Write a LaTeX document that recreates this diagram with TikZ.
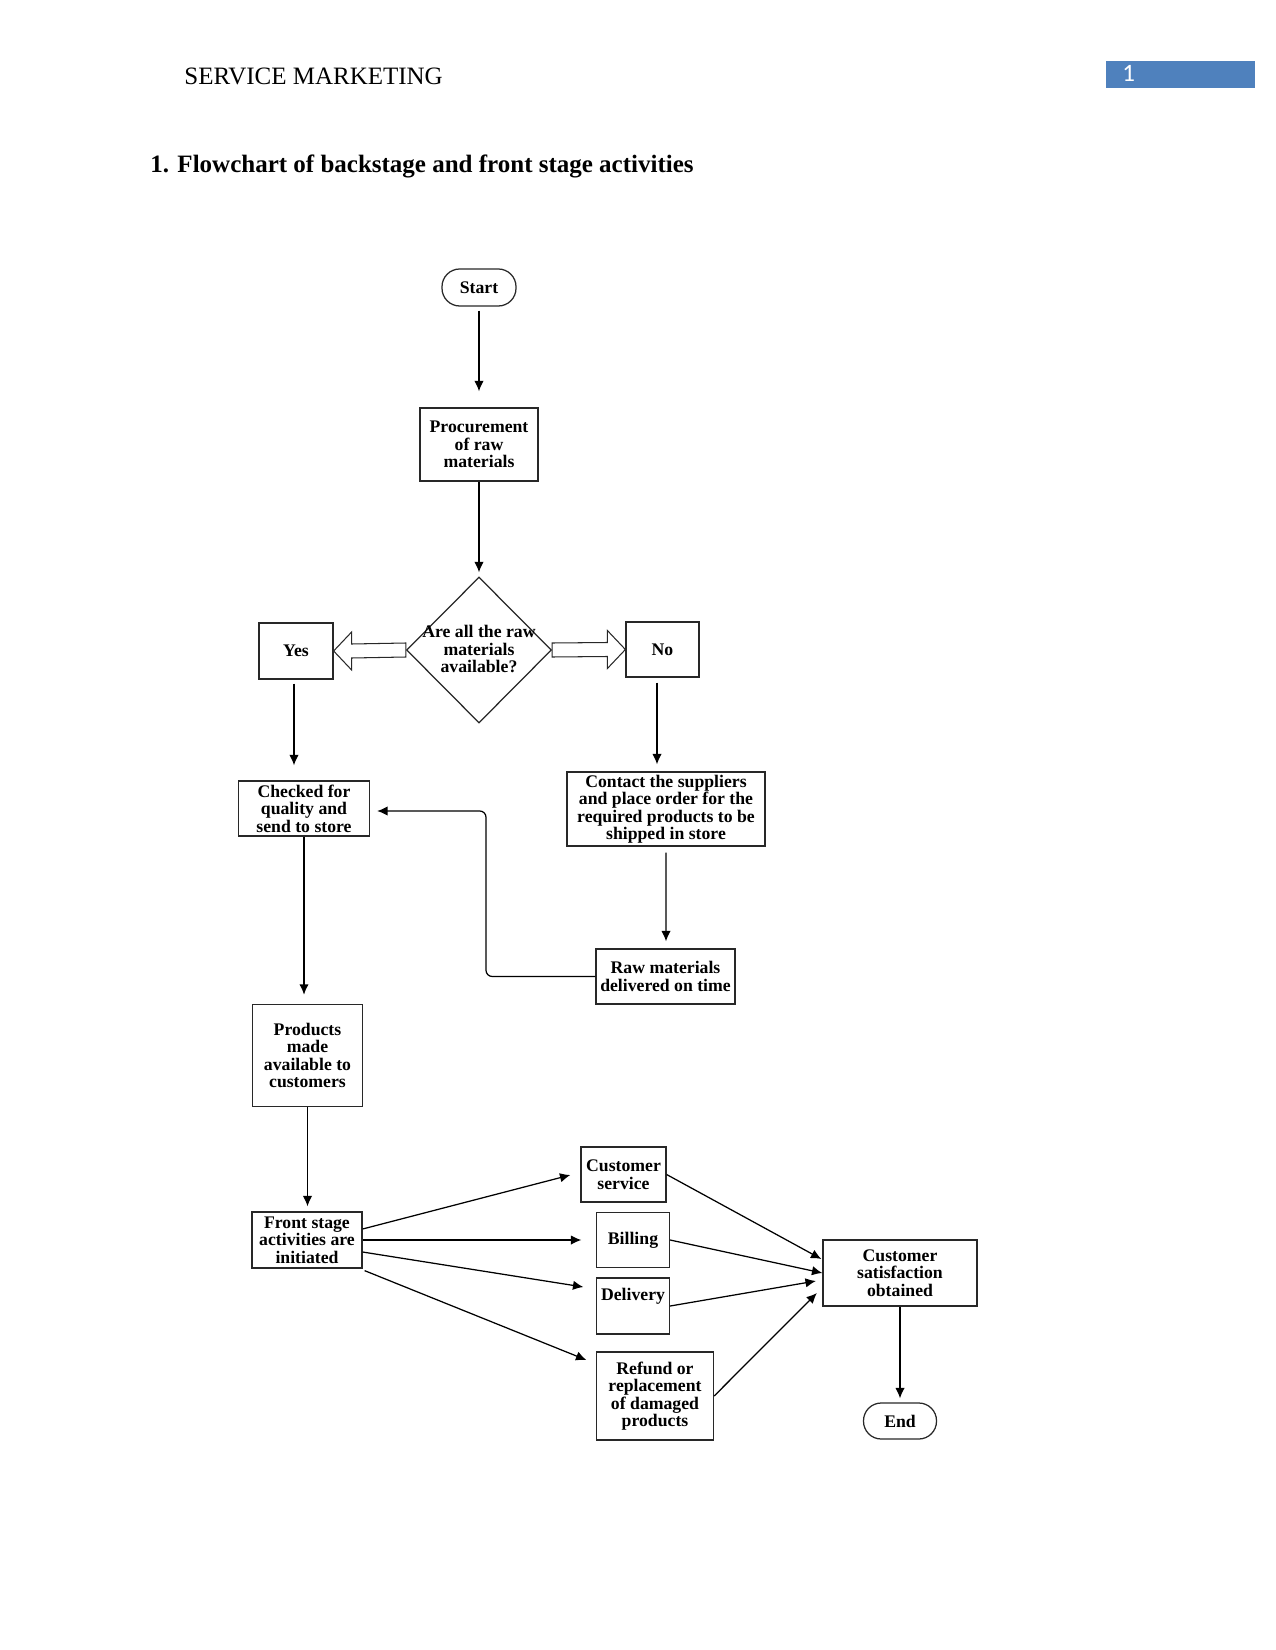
\documentclass[tikz,border=0pt]{standalone}
\usepackage{fontspec}
\setmainfont{Liberation Serif}
\newfontfamily\carlito{Carlito}
\usetikzlibrary{shapes.geometric,arrows.meta,calc}
\definecolor{pagebox}{RGB}{79,129,189}
\definecolor{lineink}{RGB}{40,40,40}
\tikzset{
  nfont/.style={font=\fontsize{8.5}{8.4}\selectfont\bfseries},
  box/.style={draw=lineink, line width=0.6pt, align=center, inner sep=1pt, nfont},
  wh/.style n args={2}{minimum width=#1*0.48pt, minimum height=#2*0.48pt},
  term/.style={box, rounded corners=8.5pt},
  arr/.style={-{Latex[length=5pt,width=4.5pt]}, line width=0.6pt},
  blk/.style={draw=lineink, line width=0.5pt, fill=white, line join=miter}
}
\begin{document}
\begin{tikzpicture}[x=0.48pt, y=-0.48pt]
\path[use as bounding box] (0,0) rectangle (1275,1650);

% header
\node[anchor=base west, inner sep=0, font=\fontsize{12}{14}\selectfont] (hdr) at (184,85) {SERVICE MARKETING};
\node[fill=pagebox, anchor=north west, inner sep=0, wh={149}{27}] (pg) at (1106,61) {};
\node[anchor=base west, inner sep=0, text=white, font=\carlito\fontsize{12}{14}\selectfont] (pgnum) at (1122,82) {1};
\node[anchor=base west, inner sep=0, font=\fontsize{12}{14}\selectfont\bfseries] (title) at (150,173) {1. Flowchart of backstage and front stage activities};

% nodes
\node[term, wh={74}{37}] (start) at (479,287.5) {Start};
\node[box, wh={118}{73}] (proc) at (479,444.5) {Procurement\\of raw\\materials};
\node[draw=lineink, diamond, line width=0.6pt, inner sep=0, wh={145}{146}] (dec) at (479,650) {};
\node[nfont, align=center, inner sep=0] (dectext) at (479,649) {Are all the raw\\materials\\available?};
\node[box, wh={74}{56}] (yes) at (296,651) {Yes};
\node[box, wh={73}{55}] (no) at (662.5,649.5) {No};
\node[box, wh={131}{55}] (checked) at (304,808.5) {Checked for\\quality and\\send to store};
\node[box, wh={198}{74}] (contact) at (666,809) {Contact the suppliers\\and place order for the\\required products to be\\shipped in store};
\node[box, wh={139}{55}] (raw) at (665.5,976.5) {Raw materials\\delivered on time};
\node[box, wh={110}{102}] (products) at (307.5,1055.5) {Products\\made\\available to\\customers};
\node[box, wh={110}{56}] (front) at (307,1240) {Front stage\\activities are\\initiated};
\node[box, wh={85}{55}] (cs) at (623.5,1174.5) {Customer\\service};
\node[box, wh={73}{55}] (billing) at (633,1240) {Billing};
\node[box, wh={73}{56}] (delivery) at (633,1306) {};
\node[nfont, inner sep=0] (deltext) at (633,1296) {Delivery};
\node[box, wh={117}{88}] (refund) at (655,1396) {Refund or\\replacement\\of damaged\\products};
\node[box, wh={154}{66}] (sat) at (900,1273) {Customer\\satisfaction\\obtained};
\node[term, wh={73}{36}] (end) at (900,1421) {End};

% block arrows
\draw[blk] ($(dec.west)+(0,-7)$) -- ($(yes.east)+(18,-7)$) -- ($(yes.east)+(18,-19)$) -- (yes.east)
  -- ($(yes.east)+(18,19)$) -- ($(yes.east)+(18,7)$) -- ($(dec.west)+(0,7)$) -- cycle;
\draw[blk] ($(dec.east)+(0,-7)$) -- ($(no.west)+(-18,-7)$) -- ($(no.west)+(-18,-19)$) -- (no.west)
  -- ($(no.west)+(-18,19)$) -- ($(no.west)+(-18,7)$) -- ($(dec.east)+(0,7)$) -- cycle;

% connectors
\draw[arr] ($(start.south)+(0,4)$) -- ($(proc.north)+(0,-16)$);
\draw[arr] (proc.south) -- ($(dec.north)+(0,-4)$);
\draw[arr] ($(yes.south)+(-2,4)$) -- ($(checked.north)+(-10,-15)$);
\draw[arr] ($(no.south)+(-5.5,5)$) -- ($(contact.north)+(-9,-7)$);
\draw[arr, line width=0.9pt] (checked.south) -- ($(products.north)+(-3.5,-9)$);
\draw[arr] ($(contact.south)+(0,6)$) -- ($(raw.north)+(0.5,-7)$);
\coordinate (fb) at (486,811);
\draw[arr, rounded corners=3pt] (raw.west) -| (fb) -- ($(checked.east)+(7,2.5)$);
\draw[arr] (products.south) -- ($(front.north)+(0.5,-5)$);

\draw[arr] ($(front.east)+(0,-11)$) -- ($(cs.west)+(-10,0.5)$);
\draw[arr] (front.east) -- ($(billing.west)+(-14.5,0)$);
\draw[arr] ($(front.east)+(0,12)$) -- ($(delivery.west)+(-12.5,-19)$);
\draw[arr] ($(front.south east)+(2,2)$) -- ($(refund.west)+(-9.5,-36)$);

\draw[arr] (cs.east) -- ($(sat.west)+(-1,-14)$);
\draw[arr] (billing.east) -- (sat.west);
\draw[arr] (delivery.east) -- ($(sat.west)+(-6.5,8)$);
\draw[arr] (refund.east) -- ($(sat.west)+(-5.5,20)$);
\draw[arr] (sat.south) -- ($(end.north)+(0,-4)$);
\end{tikzpicture}
\end{document}
